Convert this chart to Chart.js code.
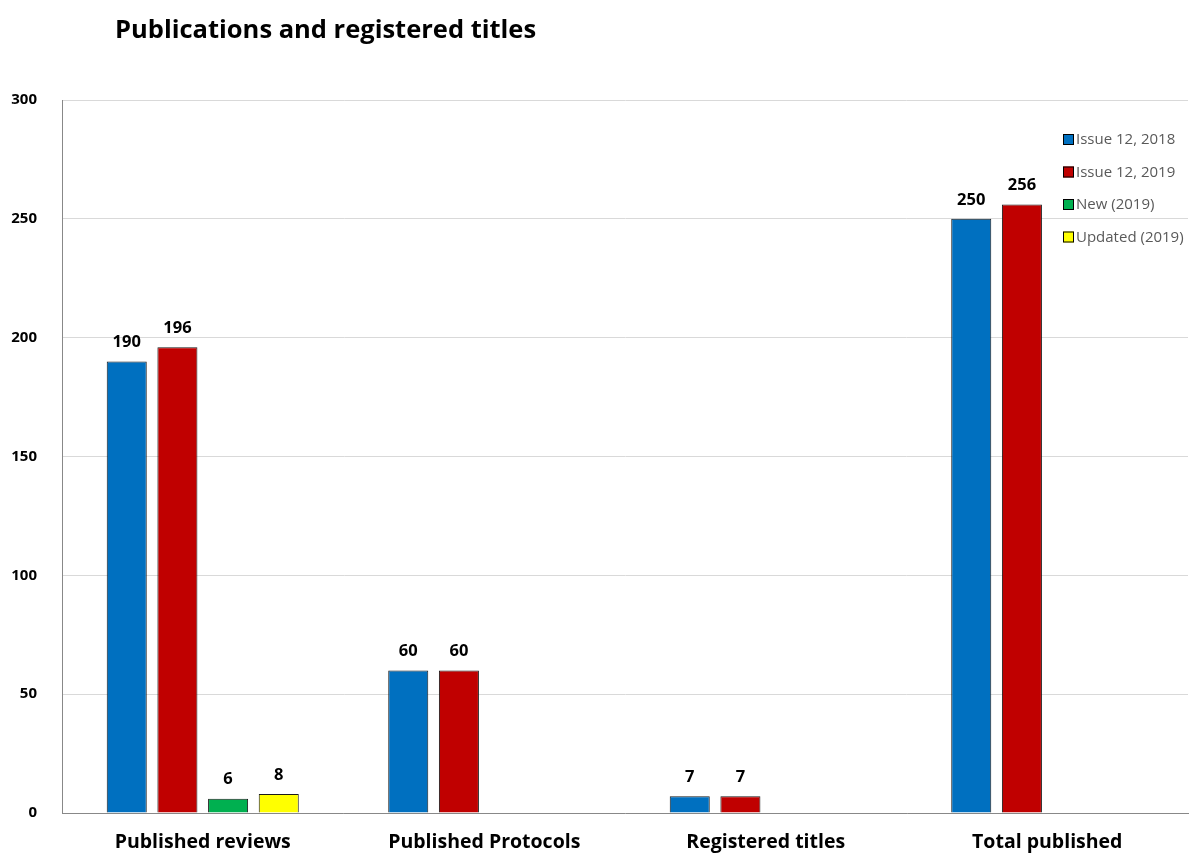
<!DOCTYPE html>
<html>
<head>
<meta charset="utf-8">
<title>Publications and registered titles</title>
<script src="https://cdn.jsdelivr.net/npm/chart.js@4"></script>
<style>
	html, body { margin: 0; padding: 0; background: #ffffff; }
	#wrap { width: 1189px; height: 853px; position: relative; }
</style>
</head>
<body>
<div id="wrap"><canvas id="pub-chart"></canvas></div>
<script>
const categories = ['Published reviews', 'Published Protocols', 'Registered titles', 'Total published'];
const issue2018 = [190, 60, 7, 250];
const issue2019 = [196, 60, 7, 256];
const new2019 = [6, null, null, null];
const updated2019 = [8, null, null, null];
const yTicks = [0, 50, 100, 150, 200, 250, 300];

const FONT = '"Open Sans", "Noto Sans", sans-serif';

// title drawn at the top left, like the original
const titlePlugin = {
	id: 'titleText',
	afterDraw(chart) {
		const ctx = chart.ctx;
		ctx.save();
		ctx.font = `bold 25.5px ${FONT}`;
		ctx.fillStyle = '#000000';
		ctx.textBaseline = 'middle';
		ctx.textAlign = 'left';
		ctx.fillText('Publications and registered titles', 115, 31);
		ctx.restore();
	}
};

// value labels above every bar
const valueLabels = {
	id: 'valueLabels',
	afterDatasetsDraw(chart) {
		const ctx = chart.ctx;
		ctx.save();
		ctx.font = `bold 16.5px ${FONT}`;
		ctx.fillStyle = '#000000';
		ctx.textAlign = 'center';
		ctx.textBaseline = 'middle';
		chart.data.datasets.forEach((ds, i) => {
			chart.getDatasetMeta(i).data.forEach((bar, j) => {
				const v = ds.data[j];
				if (v === null || v === undefined) return;
				ctx.fillText(v, bar.x, bar.y - 19);
			});
		});
		ctx.restore();
	}
};

// legend inside the plot on the right
const sideLegend = {
	id: 'sideLegend',
	afterDraw(chart) {
		const ctx = chart.ctx;
		ctx.save();
		ctx.font = `15px ${FONT}`;
		ctx.textBaseline = 'middle';
		ctx.textAlign = 'left';
		chart.data.datasets.forEach((ds, i) => {
			const y = 140 + i * 32.5;
			ctx.fillStyle = ds.backgroundColor;
			ctx.fillRect(1063, y - 6, 11, 11);
			ctx.strokeStyle = '#000000';
			ctx.lineWidth = 1;
			ctx.strokeRect(1063.5, y - 5.5, 10, 10);
			ctx.fillStyle = '#595959';
			ctx.fillText(ds.label, 1076, y);
		});
		ctx.restore();
	}
};

function makeSet(label, data, color) {
	return {
		label: label,
		data: data,
		backgroundColor: color,
		borderColor: '#1a1a1a',
		borderWidth: 1,
		categoryPercentage: 0.72,
		barPercentage: 0.79
	};
}

window.onload = () => {
	const ctx = document.getElementById('pub-chart').getContext('2d');
	new Chart(ctx, {
		type: 'bar',
		data: {
			labels: categories,
			datasets: [
				makeSet('Issue 12, 2018', issue2018, '#0070C0'),
				makeSet('Issue 12, 2019', issue2019, '#C00000'),
				makeSet('New (2019)', new2019, '#00B050'),
				makeSet('Updated (2019)', updated2019, '#FFFF00')
			]
		},
		options: {
			responsive: true,
			maintainAspectRatio: false,
			animation: false,
			layout: { padding: { top: 100, right: 1, left: 0, bottom: 0 } },
			scales: {
				x: {
					grid: { display: false, drawTicks: false },
					border: { color: '#888888', width: 1 },
					ticks: {
						color: '#000000',
						font: { family: FONT, size: 19.5, weight: 'bold' },
						padding: 18
					},
					afterFit: (scale) => { scale.height = 40; }
				},
				y: {
					min: 0,
					max: 300,
					afterBuildTicks: (scale) => { scale.ticks = yTicks.map(v => ({ value: v })); },
					grid: { color: '#d9d9d9', drawTicks: false },
					border: { color: '#888888', width: 1 },
					ticks: {
						color: '#000000',
						font: { family: FONT, size: 15, weight: 'bold' },
						padding: 25
					},
					afterFit: (scale) => { scale.width = 62; }
				}
			},
			plugins: {
				legend: { display: false },
				tooltip: { enabled: false }
			}
		},
		plugins: [titlePlugin, valueLabels, sideLegend]
	});
};
</script>
</body>
</html>
